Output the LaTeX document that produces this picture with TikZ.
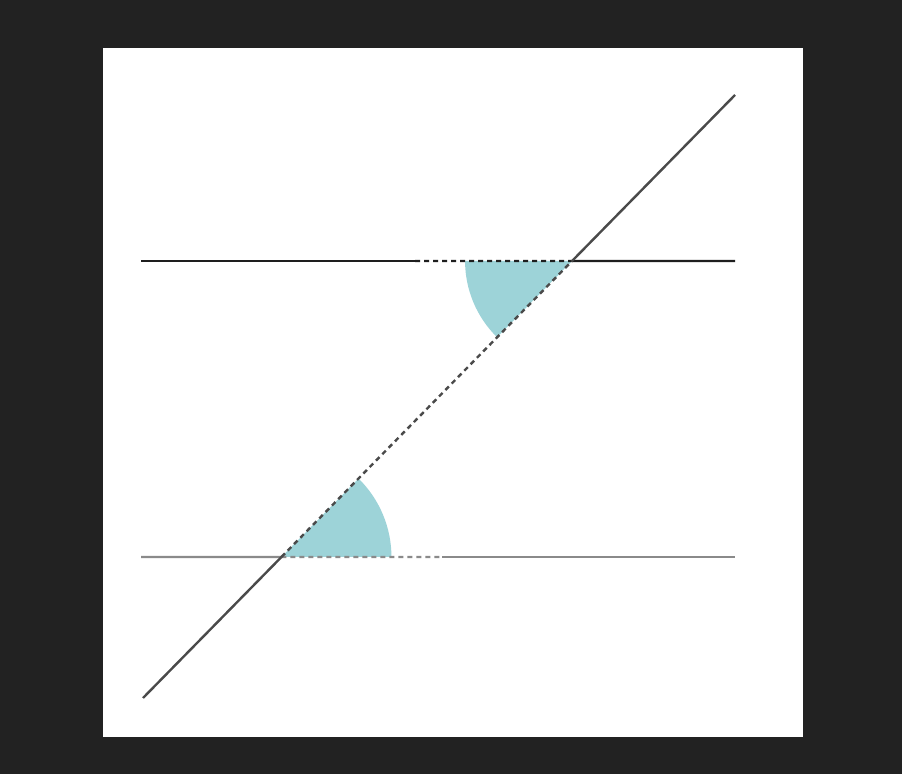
\documentclass[tikz,border=0pt]{standalone}
\usepackage{tikz}
\usetikzlibrary{calc}

\definecolor{framegray}{HTML}{222222}
\definecolor{angleteal}{HTML}{9DD3D8}
\definecolor{linedark}{HTML}{1E1E1E}
\definecolor{linegray}{HTML}{8A8A8A}
\definecolor{transgray}{HTML}{4A4A4A}

\begin{document}
\begin{tikzpicture}[x=1pt,y=1pt,
	line/.style={line width=2.4pt},
	dashpart/.style={line width=2.4pt, dash pattern=on 5pt off 4pt},
	sector/.style={fill=angleteal, draw=none}
	]
	\fill[framegray] (0,0) rectangle (902,774);
	\fill[white] (103,37) rectangle (803,726);
	\useasboundingbox (0,0) rectangle (902,774);
	
	% the two parallels and the transversal
	\coordinate (topL) at (141,513);
	\coordinate (topR) at (735,513);
	\coordinate (botL) at (141,217);
	\coordinate (botR) at (735,217);
	\coordinate (diagA) at (143,76);
	\coordinate (diagB) at (735,679);
	\coordinate (topX) at (intersection of diagA--diagB and topL--topR);
	\coordinate (botX) at (intersection of diagA--diagB and botL--botR);
	\coordinate (topDash) at (415,513);
	\coordinate (botDash) at (442,217);
	
	% alternate angles
	\fill[sector] (topX) -- ++(180:107) arc (180:225.5:107) -- cycle;
	\fill[sector] (botX) -- ++(0:110) arc (0:45.5:110) -- cycle;
	
	\draw[line, linedark] (topL) -- (topDash);
	\draw[dashpart, linedark] (topDash) -- (topX);
	\draw[line, linedark] (topX) -- (topR);
	
	\draw[line, linegray] (botL) -- (botX);
	\draw[dashpart, linegray] (botX) -- (botDash);
	\draw[line, linegray] (botDash) -- (botR);
	
	\draw[line, transgray] (diagA) -- (botX);
	\draw[dashpart, transgray] (botX) -- (topX);
	\draw[line, transgray] (topX) -- (diagB);
\end{tikzpicture}
\end{document}
